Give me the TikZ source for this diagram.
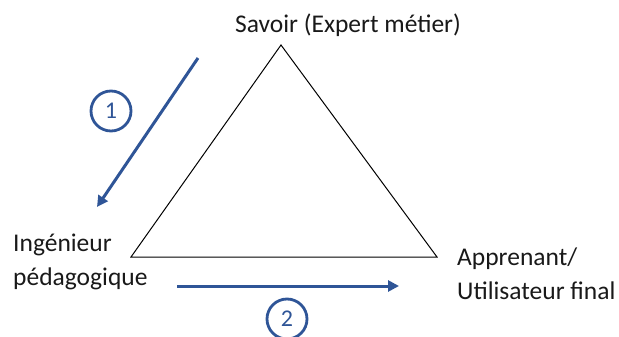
\documentclass[tikz,border=0pt]{standalone}
\usepackage{fontspec}
\setmainfont{Carlito}
\usetikzlibrary{positioning, arrows.meta, calc}
\definecolor{flecheblue}{RGB}{47,85,151}

\begin{document}
\begin{tikzpicture}[x=1pt, y=-1pt,
    label/.style={font=\fontsize{25.5}{34}\selectfont, text=black!90, inner sep=0pt, align=left},
    numero/.style={circle, draw=flecheblue, line width=2.8pt, minimum size=40pt, inner sep=0pt,
      text=flecheblue, font=\fontsize{24}{28}\selectfont},
    fleche/.style={draw=flecheblue, line width=3pt, -{Triangle[length=11pt, width=11pt]}}]
      \useasboundingbox (0,0) rectangle (619,337);
      % triangle
      \coordinate (savoir) at (281,45);
      \coordinate (inge) at (131,257);
      \coordinate (appr) at (437,257);
      \draw[line width=1pt] (savoir) -- (inge) -- (appr) -- cycle;
      % textes
      \node[label, anchor=base] (tsavoir) at (348,33) {Savoir (Expert métier)};
      \node[label, anchor=north west] (tinge) at (13,234) {Ingénieur\\pédagogique};
      \node[label, anchor=north west] (tappr) at (457,248) {Apprenant/\\Utilisateur final};
      % fleches
      \coordinate (f1a) at (198,58);
      \coordinate (f1b) at (97,207);
      \coordinate (f2a) at (177,286);
      \coordinate (f2b) at (399,286);
      \draw[fleche] (f1a) -- (f1b);
      \draw[fleche] (f2a) -- (f2b);
      \node[numero] (n1) at (111,111) {1};
      \node[numero] (n2) at (287,319) {2};
    \end{tikzpicture}
\end{document}
